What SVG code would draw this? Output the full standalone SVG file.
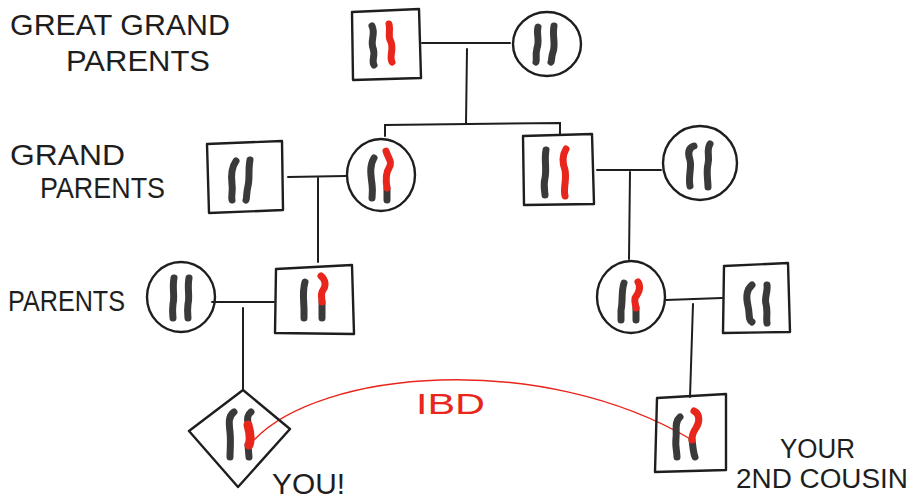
<svg xmlns="http://www.w3.org/2000/svg" width="917" height="503" viewBox="0 0 917 503">
  <style>
    .bg { fill: #ffffff; }
    .shape { fill: none; stroke: #1e1e1e; stroke-width: 2.4; stroke-linejoin: round; stroke-linecap: round; }
    .link { fill: none; stroke: #1e1e1e; stroke-width: 2; stroke-linecap: round; }
    .chr { fill: none; stroke: #3a3a3a; stroke-width: 7; stroke-linecap: round; stroke-linejoin: round; }
    .ibd { fill: none; stroke: #e8261c; stroke-width: 7; stroke-linecap: round; stroke-linejoin: round; }
    .arc { fill: none; stroke: #e8261c; stroke-width: 1.4; }
    .label { font-family: "Liberation Sans", "DejaVu Sans", sans-serif; font-size: 30px; fill: #1e1e1e; }
    .small { font-size: 27px; }
    .red { fill: #e8261c; }
  </style>

  <rect class="bg" x="0" y="0" width="917" height="503"/>

  <!-- generation labels -->
  <g id="labels">
    <text class="label" x="10" y="35" textLength="220" lengthAdjust="spacingAndGlyphs">GREAT GRAND</text>
    <text class="label" x="66" y="71" textLength="144" lengthAdjust="spacingAndGlyphs">PARENTS</text>
    <text class="label" x="10" y="165" textLength="115" lengthAdjust="spacingAndGlyphs">GRAND</text>
    <text class="label" x="40" y="198" textLength="125" lengthAdjust="spacingAndGlyphs">PARENTS</text>
    <text class="label" x="8" y="311" textLength="117" lengthAdjust="spacingAndGlyphs">PARENTS</text>
    <text class="label" x="272" y="494" textLength="73" lengthAdjust="spacingAndGlyphs">YOU!</text>
    <text class="label small" x="780" y="458" textLength="75" lengthAdjust="spacingAndGlyphs">YOUR</text>
    <text class="label small" x="736" y="488" textLength="172" lengthAdjust="spacingAndGlyphs">2ND COUSIN</text>
    <text class="label red" x="416" y="414" textLength="69" lengthAdjust="spacingAndGlyphs">IBD</text>
  </g>

  <!-- family tree lines -->
  <g id="connectors">
    <path class="link" d="M422,43 L510,43"/>
    <path class="link" d="M467,49 L466,124"/>
    <path class="link" d="M385,136 L385,125 L560,123 L560,134"/>
    <path class="link" d="M288,177 L346,176"/>
    <path class="link" d="M318,178 L318,262"/>
    <path class="link" d="M597,170 L661,170"/>
    <path class="link" d="M630,172 L629,259"/>
    <path class="link" d="M212,302 L274,302"/>
    <path class="link" d="M243,308 L243,390"/>
    <path class="link" d="M666,300 L722,298"/>
    <path class="link" d="M693,304 L690,397"/>
    <path class="arc" d="M254,440 C320,370 540,350 692,440"/>
  </g>

  <!-- great grandparents -->
  <g id="ggp-father">
    <path class="shape" d="M352,12 L419,9 L421,78 L353,80 Z"/>
    <path class="chr" d="M372,26 C376,34 370,40 373,48 C376,56 371,60 374,65"/>
    <path class="ibd" d="M389,24 C391,32 387,36 391,42 C394,50 389,56 392,62"/>
  </g>
  <g id="ggp-mother">
    <ellipse class="shape" cx="547" cy="44" rx="34" ry="32"/>
    <path class="chr" d="M538,27 C536,34 540,40 537,48 C535,56 537,60 536,62"/>
    <path class="chr" d="M554,26 C552,36 556,44 553,52 C551,58 552,60 551,62"/>
  </g>

  <!-- grandparents, left couple -->
  <g id="gp-left-father">
    <path class="shape" d="M207,144 L282,141 L283,210 L209,213 Z"/>
    <path class="chr" d="M236,161 C231,168 231,176 232,184 C233,192 231,196 232,200"/>
    <path class="chr" d="M250,160 C248,170 250,178 248,186 C246,194 247,198 246,200"/>
  </g>
  <g id="gp-left-mother">
    <ellipse class="shape" cx="381" cy="175" rx="34" ry="36"/>
    <path class="chr" d="M374,158 C369,166 371,176 372,184 C373,192 372,196 372,198"/>
    <path class="chr" d="M387,188 L387,200"/>
    <path class="ibd" d="M386,151 C388,158 393,162 389,168 C385,174 386,182 387,188"/>
  </g>

  <!-- grandparents, right couple -->
  <g id="gp-right-father">
    <path class="shape" d="M523,136 L592,134 L594,204 L524,205 Z"/>
    <path class="chr" d="M546,150 C544,160 547,168 545,178 C543,186 545,192 545,195"/>
    <path class="ibd" d="M566,149 C562,156 562,162 565,170 C567,180 563,188 565,196"/>
  </g>
  <g id="gp-right-mother">
    <ellipse class="shape" cx="700" cy="163" rx="37" ry="37"/>
    <path class="chr" d="M694,146 C688,148 688,154 690,160 C692,168 688,176 690,186"/>
    <path class="chr" d="M710,144 C706,150 710,156 708,164 C706,172 708,180 708,187"/>
  </g>

  <!-- parents, left couple -->
  <g id="parent-left-mother">
    <ellipse class="shape" cx="181" cy="297" rx="34" ry="35"/>
    <path class="chr" d="M174,278 C172,288 175,296 173,304 C172,312 173,316 173,318"/>
    <path class="chr" d="M189,278 C187,288 190,296 188,304 C187,312 188,316 188,318"/>
  </g>
  <g id="parent-left-father">
    <path class="shape" d="M276,269 L352,265 L354,334 L275,333 Z"/>
    <path class="chr" d="M305,282 C302,292 304,302 304,310 L304,318"/>
    <path class="chr" d="M322,302 L322,318"/>
    <path class="ibd" d="M321,276 C326,280 326,286 323,290 C320,294 322,298 322,302"/>
  </g>

  <!-- parents, right couple -->
  <g id="parent-right-mother">
    <ellipse class="shape" cx="631" cy="297" rx="34" ry="36"/>
    <path class="chr" d="M624,283 C621,292 623,302 621,310 L621,320"/>
    <path class="chr" d="M636,308 L636,320"/>
    <path class="ibd" d="M638,282 C642,288 638,294 635,298 C634,302 636,306 636,308"/>
  </g>
  <g id="parent-right-father">
    <path class="shape" d="M724,266 L788,263 L790,332 L723,333 Z"/>
    <path class="chr" d="M752,285 C746,290 746,298 748,306 C750,314 748,320 752,322"/>
    <path class="chr" d="M767,285 C768,292 764,298 766,304 C768,312 766,318 767,323"/>
  </g>

  <!-- you -->
  <g id="you">
    <path class="shape" d="M243,390 L290,429 L238,487 L189,431 Z"/>
    <path class="chr" d="M234,412 C228,416 229,424 230,432 C231,442 230,450 230,457"/>
    <path class="chr" d="M251,412 C246,416 248,420 248,425"/>
    <path class="chr" d="M248,445 L249,457"/>
    <path class="ibd" d="M248,425 C250,432 251,440 249,445" style="stroke-width:9"/>
  </g>

  <!-- second cousin -->
  <g id="second-cousin">
    <path class="shape" d="M657,398 L726,394 L726,470 L655,472 Z"/>
    <path class="chr" d="M680,417 C674,422 677,430 676,438 C675,446 677,452 677,457"/>
    <path class="chr" d="M692,440 C693,446 693,452 695,457"/>
    <path class="ibd" d="M694,411 C700,414 700,422 696,428 C693,432 692,436 692,440"/>
  </g>
</svg>
